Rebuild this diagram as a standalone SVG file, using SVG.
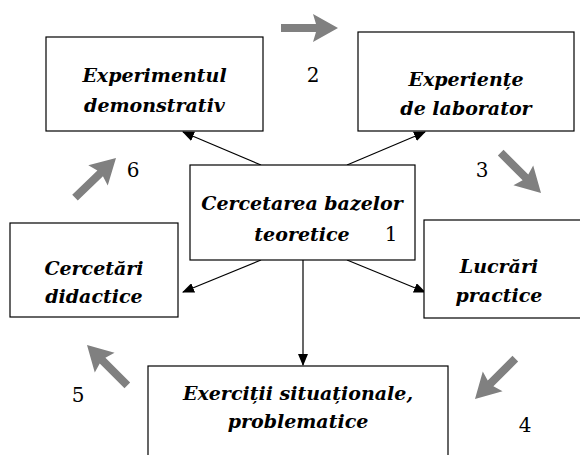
<svg xmlns="http://www.w3.org/2000/svg" width="580" height="455" viewBox="0 0 580 455">
<style>
.box{fill:#fff;stroke:#000;stroke-width:1.2}
.c{stroke:#000;stroke-width:1.2;fill:none;marker-end:url(#ah)}
.g{fill:#808080}
</style>
<defs>
<marker id="ah" markerWidth="12" markerHeight="10" refX="11" refY="5" orient="auto" markerUnits="userSpaceOnUse">
<path d="M0,0 L12,5 L0,10 Z" fill="#000"/>
</marker>
<path id="ga" d="M-57,-4 L-22,-4 L-25,-14 L0,0 L-25,14 L-22,4 L-57,4 Z"/>
</defs>
<g id="connectors">
<line class="c" x1="261" y1="165" x2="183" y2="132"/>
<line class="c" x1="347" y1="165" x2="425" y2="132"/>
<line class="c" x1="261" y1="260" x2="183" y2="292"/>
<line class="c" x1="347" y1="260" x2="425" y2="292"/>
<line class="c" x1="303" y1="260" x2="303" y2="365"/>
</g>
<g id="cycle-arrows" class="g">
<use href="#ga" transform="translate(338,28)"/>
<use href="#ga" transform="translate(541,193) rotate(45)"/>
<use href="#ga" transform="translate(475,399) rotate(135)"/>
<use href="#ga" transform="translate(87,345) rotate(225)"/>
<use href="#ga" transform="translate(116,158) rotate(-44)"/>
</g>
<g font-family="'DejaVu Serif', serif" font-weight="bold" font-style="italic" font-size="19" text-anchor="middle" fill="#000">
<g id="n-experimentul">
<rect class="box" x="46" y="37" width="217" height="94"/>
<text x="154.5" y="82">Experimentul</text>
<text x="154.5" y="112">demonstrativ</text>
</g>
<g id="n-experiente">
<rect class="box" x="358" y="32" width="216" height="99"/>
<text x="466" y="86">Experiențe</text>
<text x="466" y="115">de laborator</text>
</g>
<g id="n-cercetarea">
<rect class="box" x="190" y="165" width="225" height="95"/>
<text x="302" y="210">Cercetarea bazelor</text>
<text x="302" y="241">teoretice</text>
</g>
<g id="n-cercetari">
<rect class="box" x="10" y="223" width="168" height="94"/>
<text x="94" y="275">Cercetări</text>
<text x="94" y="303">didactice</text>
</g>
<g id="n-lucrari">
<rect class="box" x="424" y="220" width="170" height="98"/>
<text x="499" y="273">Lucrări</text>
<text x="499" y="302">practice</text>
</g>
<g id="n-exercitii">
<rect class="box" x="148" y="366" width="300" height="100"/>
<text x="298" y="400">Exerciții situaționale,</text>
<text x="298" y="428">problematice</text>
</g>
</g>
<g id="numbers" font-family="'DejaVu Serif', serif" font-size="20" text-anchor="middle" fill="#000">
<text x="391" y="241">1</text>
<text x="313" y="82">2</text>
<text x="482" y="177">3</text>
<text x="525" y="432">4</text>
<text x="78" y="402">5</text>
<text x="133" y="177">6</text>
</g>
</svg>
